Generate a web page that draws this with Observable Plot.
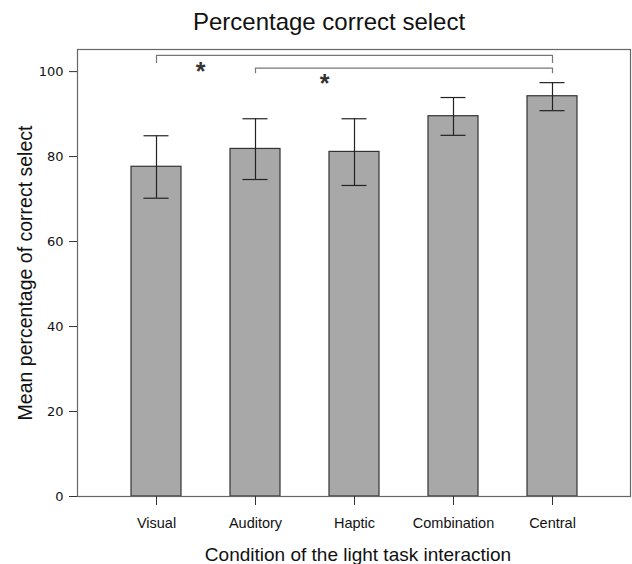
<!DOCTYPE html>
<html><head><meta charset="utf-8">
<script src="https://cdn.jsdelivr.net/npm/d3@7"></script>
<script src="https://cdn.jsdelivr.net/npm/@observablehq/plot@0.6"></script>
<style>body{margin:0;background:#fff}</style>
</head><body><div id="chart"></div>
<script>
const conditions = ["Visual", "Auditory", "Haptic", "Combination", "Central"];
const means = [77.6, 81.8, 81.1, 89.5, 94.2];
const lower = [70.2, 74.6, 73.2, 85.0, 90.8];
const upper = [84.9, 88.9, 88.9, 93.9, 97.4];
const yTicks = [0, 20, 40, 60, 80, 100];
const sigFrom = ["Visual", "Auditory"];
const sigTo = ["Central", "Central"];
const sigLevel = [103.8, 100.8];
const sigTickBottom = [101.9, 99.5];
const sigStarY = [101.2, 98.4];
const sigLabel = ["*", "*"];

const data = conditions.map((c, i) => ({condition: c, mean: means[i], lo: lower[i], hi: upper[i]}));
const sig = sigFrom.map((f, i) => ({from: f, to: sigTo[i], y: sigLevel[i], y0: sigTickBottom[i], sy: sigStarY[i], label: sigLabel[i]}));

const font = "'Liberation Sans', Arial, Helvetica, sans-serif";

const chart = Plot.plot({
  width: 632,
  height: 564,
  marginLeft: 77,
  marginRight: 2,
  marginTop: 49,
  marginBottom: 68,
  style: {fontFamily: font, background: "white", color: "#111"},
  x: {domain: conditions, paddingInner: 0.5, paddingOuter: 0.53},
  y: {domain: [0, 105.2]},
  marks: [
    Plot.barY(data, {x: "condition", y: "mean", fill: "#a8a8a8", stroke: "#333", strokeWidth: 1.2}),
    Plot.ruleX(data, {x: "condition", y1: "lo", y2: "hi", stroke: "#222", strokeWidth: 1.2}),
    Plot.tickY(data, {x: "condition", y: "lo", inset: 12.5, stroke: "#222", strokeWidth: 1.2}),
    Plot.tickY(data, {x: "condition", y: "hi", inset: 12.5, stroke: "#222", strokeWidth: 1.2}),
    Plot.link(sig, {x1: "from", x2: "to", y1: "y", y2: "y", stroke: "#777", strokeWidth: 1.2}),
    Plot.ruleX(sig, {x: "from", y1: "y0", y2: "y", stroke: "#777", strokeWidth: 1.2}),
    Plot.ruleX(sig, {x: "to", y1: "y0", y2: "y", stroke: "#777", strokeWidth: 1.2}),
    Plot.text([sig[0]], {x: "from", y: "sy", text: "label", dx: 44, dy: 6, fontSize: 25, fontWeight: "bold", fill: "#333"}),
    Plot.text([sig[1]], {x: "from", y: "sy", text: "label", dx: 69, dy: 6, fontSize: 25, fontWeight: "bold", fill: "#333"}),
    Plot.frame({stroke: "#666", strokeWidth: 1.2}),
    Plot.ruleX([0], {frameAnchor: "left", stroke: "#333", strokeWidth: 1.3}),
    Plot.axisY({ticks: yTicks, tickSize: 8, tickPadding: 6, fontSize: 13, fontFamily: "'DejaVu Sans', sans-serif", label: null, stroke: "#333"}),
    Plot.axisX({tickSize: 9, tickPadding: 12, fontSize: 14.5, label: null, stroke: "#333"}),
    Plot.text(["Percentage correct select"], {frameAnchor: "top", lineAnchor: "middle", textAnchor: "middle", dx: -25, dy: -27, fontSize: 24, fill: "#111"}),
    Plot.text(["Mean percentage of correct select"], {frameAnchor: "left", rotate: -90, textAnchor: "middle", lineAnchor: "middle", dx: -52, fontSize: 19.5, fill: "#111"}),
    Plot.text(["Condition of the light task interaction"], {frameAnchor: "bottom", lineAnchor: "middle", textAnchor: "middle", dx: 4, dy: 58, fontSize: 19, fill: "#111"})
  ]
});
document.getElementById("chart").appendChild(chart);
</script>
</body></html>
